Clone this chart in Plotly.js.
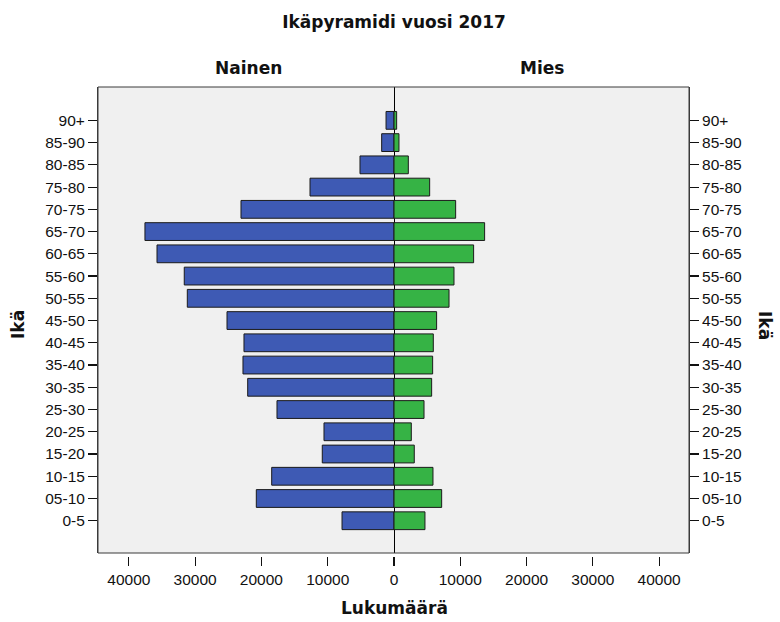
<!DOCTYPE html>
<html>
<head>
<meta charset="utf-8">
<script src="https://cdn.plot.ly/plotly-3.0.1.min.js"></script>
<style>html,body{margin:0;padding:0;background:#fff;}#chart{width:780px;height:622px;}</style>
</head>
<body>
<div id="chart"></div>
<script>
// Age groups from youngest (bottom) to oldest (top)
const ageGroups = ["0-5","05-10","10-15","15-20","20-25","25-30","30-35","35-40","40-45","45-50","50-55","55-60","60-65","65-70","70-75","75-80","80-85","85-90","90+"];
// Women (Nainen) counts, same order
const nainen = [7840, 20770, 18450, 10820, 10560, 17650, 22070, 22780, 22630, 25190, 31180, 31640, 35750, 37570, 23080, 12670, 5130, 1860, 1200];
// Men (Mies) counts, same order
const mies = [4670, 7190, 5880, 3060, 2610, 4530, 5680, 5830, 5930, 6430, 8300, 9050, 12010, 13670, 9300, 5380, 2160, 750, 400];
// x-axis tick values and labels
const xTickVals = [-40000, -30000, -20000, -10000, 0, 10000, 20000, 30000, 40000];
const xTickText = ["40000", "30000", "20000", "10000", "0", "10000", "20000", "30000", "40000"];

const W = 780, H = 622;
const plotTop = 87, plotBottom = 553, axisY = 556;
const paperH = axisY - plotTop;
const dStart = (axisY - plotBottom) / paperH;

const tickFont = {family: "Liberation Sans, Arial, sans-serif", size: 15.5, color: "#111"};
const boldFont = {family: "DejaVu Sans, Verdana, sans-serif", size: 17, color: "#111", weight: "bold"};

const traces = [
  {
    type: "bar", orientation: "h", name: "Nainen",
    y: ageGroups, x: nainen.map(v => -v),
    width: 0.8,
    marker: {color: "#3e5ab4", line: {color: "#1b1b1b", width: 1}},
    yaxis: "y", xaxis: "x", hoverinfo: "skip"
  },
  {
    type: "bar", orientation: "h", name: "Mies",
    y: ageGroups, x: mies,
    width: 0.8,
    marker: {color: "#36b345", line: {color: "#1b1b1b", width: 1}},
    yaxis: "y2", xaxis: "x", hoverinfo: "skip"
  }
];

const yCommon = {
  type: "category",
  categoryorder: "array",
  categoryarray: ageGroups,
  range: [-1.45, 19.5],
  domain: [dStart, 1],
  showgrid: false,
  zeroline: false,
  showline: true,
  linecolor: "#3a3a3a",
  linewidth: 1,
  ticks: "outside",
  ticklen: 9,
  tickcolor: "#111",
  tickwidth: 1.2,
  tickfont: tickFont,
  fixedrange: true
};

const layout = {
  width: W, height: H,
  margin: {l: 98, r: 91, t: plotTop, b: H - axisY, pad: 0},
  paper_bgcolor: "#ffffff",
  plot_bgcolor: "#f0f0f0",
  barmode: "overlay",
  showlegend: false,
  font: tickFont,
  xaxis: {
    range: [-44650, 44500],
    anchor: "free", position: 0,
    tickvals: xTickVals, ticktext: xTickText,
    ticks: "outside", ticklen: 9, tickcolor: "#111", tickwidth: 1.2,
    tickfont: tickFont,
    showgrid: false, showline: false,
    zeroline: true, zerolinecolor: "#000", zerolinewidth: 1,
    fixedrange: true
  },
  yaxis: Object.assign({}, yCommon, {side: "left"}),
  yaxis2: Object.assign({}, yCommon, {side: "right", overlaying: "y", anchor: "x"}),
  shapes: [
    {type: "rect", xref: "paper", yref: "paper", x0: 0, x1: 1, y0: dStart, y1: 1,
     line: {color: "#3a3a3a", width: 1}, fillcolor: "rgba(0,0,0,0)", layer: "above"}
  ],
  title: {
    text: "Ikäpyramidi vuosi 2017",
    font: boldFont,
    x: 394 / W, xanchor: "center",
    y: 1 - 22 / H, yanchor: "middle"
  },
  annotations: [
    {text: "Nainen", xref: "paper", yref: "paper", x: (248 - 98) / 591, y: 1 + (plotTop - 68) / paperH,
     xanchor: "center", yanchor: "middle", showarrow: false, font: boldFont},
    {text: "Mies", xref: "paper", yref: "paper", x: (542 - 98) / 591, y: 1 + (plotTop - 68) / paperH,
     xanchor: "center", yanchor: "middle", showarrow: false, font: boldFont},
    {text: "Ikä", xref: "paper", yref: "paper", x: (18 - 98) / 591, y: 1 - (325 - plotTop) / paperH,
     xanchor: "center", yanchor: "middle", showarrow: false, textangle: -90, font: boldFont},
    {text: "Ikä", xref: "paper", yref: "paper", x: (765 - 98) / 591, y: 1 - (325 - plotTop) / paperH,
     xanchor: "center", yanchor: "middle", showarrow: false, textangle: 90, font: boldFont},
    {text: "Lukumäärä", xref: "paper", yref: "paper", x: (394 - 98) / 591, y: -(608 - axisY) / paperH,
     xanchor: "center", yanchor: "middle", showarrow: false, font: boldFont}
  ]
};

Plotly.newPlot("chart", traces, layout, {displayModeBar: false, staticPlot: true});
</script>
</body>
</html>
